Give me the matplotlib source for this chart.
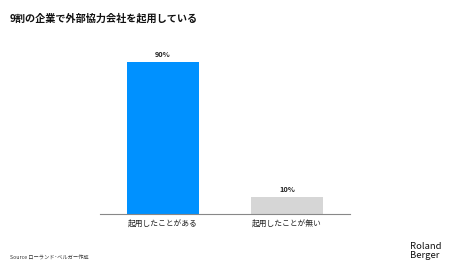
import matplotlib
matplotlib.use("Agg")
import matplotlib.pyplot as plt

plt.rcParams['font.family'] = ['Noto Sans CJK JP', 'DejaVu Sans']

categories = ["起用したことがある", "起用したことが無い"]
values = [90, 10]
value_labels = ["90%", "10%"]
colors = ["#0091FF", "#D6D6D6"]
title = "9割の企業で外部協力会社を起用している"
source = "Source ローランド･ベルガー作成"
logo = "Roland\nBerger"

fig = plt.figure(figsize=(4.5, 2.71), dpi=100)
fig.patch.set_facecolor("white")
ax = fig.add_axes([100/450, 1-214/271, 250/450, (214-45.1)/271])
x = list(range(len(categories)))
ax.bar(x, values, width=0.58, color=colors)
ax.set_xlim(-0.508, 1.508)
ax.set_ylim(0, 100)
for xi, v, lab in zip(x, values, value_labels):
    ax.text(xi, v + 2.2, lab, ha="center", va="bottom", fontsize=5.3, fontweight="bold", color="#222222")
ax.set_xticks(x)
ax.set_xticklabels(categories, fontsize=5.6, color="#222222")
ax.tick_params(axis="x", length=0, pad=4)
ax.set_yticks([])
for s in ["top", "right", "left"]:
    ax.spines[s].set_visible(False)
ax.spines["bottom"].set_color("#888888")
ax.spines["bottom"].set_linewidth(0.8)

fig.text(10/450, 1-18/271, title, fontsize=7.3, fontweight="bold", color="#111111", ha="left", va="center")
fig.text(10/450, 1-258/271, source, fontsize=3.8, color="#333333", ha="left", va="center")
fig.text(410/450, 1-251/271, logo, fontsize=6.8, color="#111111", ha="left", va="center", linespacing=1.0)

fig.savefig("out.png", dpi=100, facecolor="white")
